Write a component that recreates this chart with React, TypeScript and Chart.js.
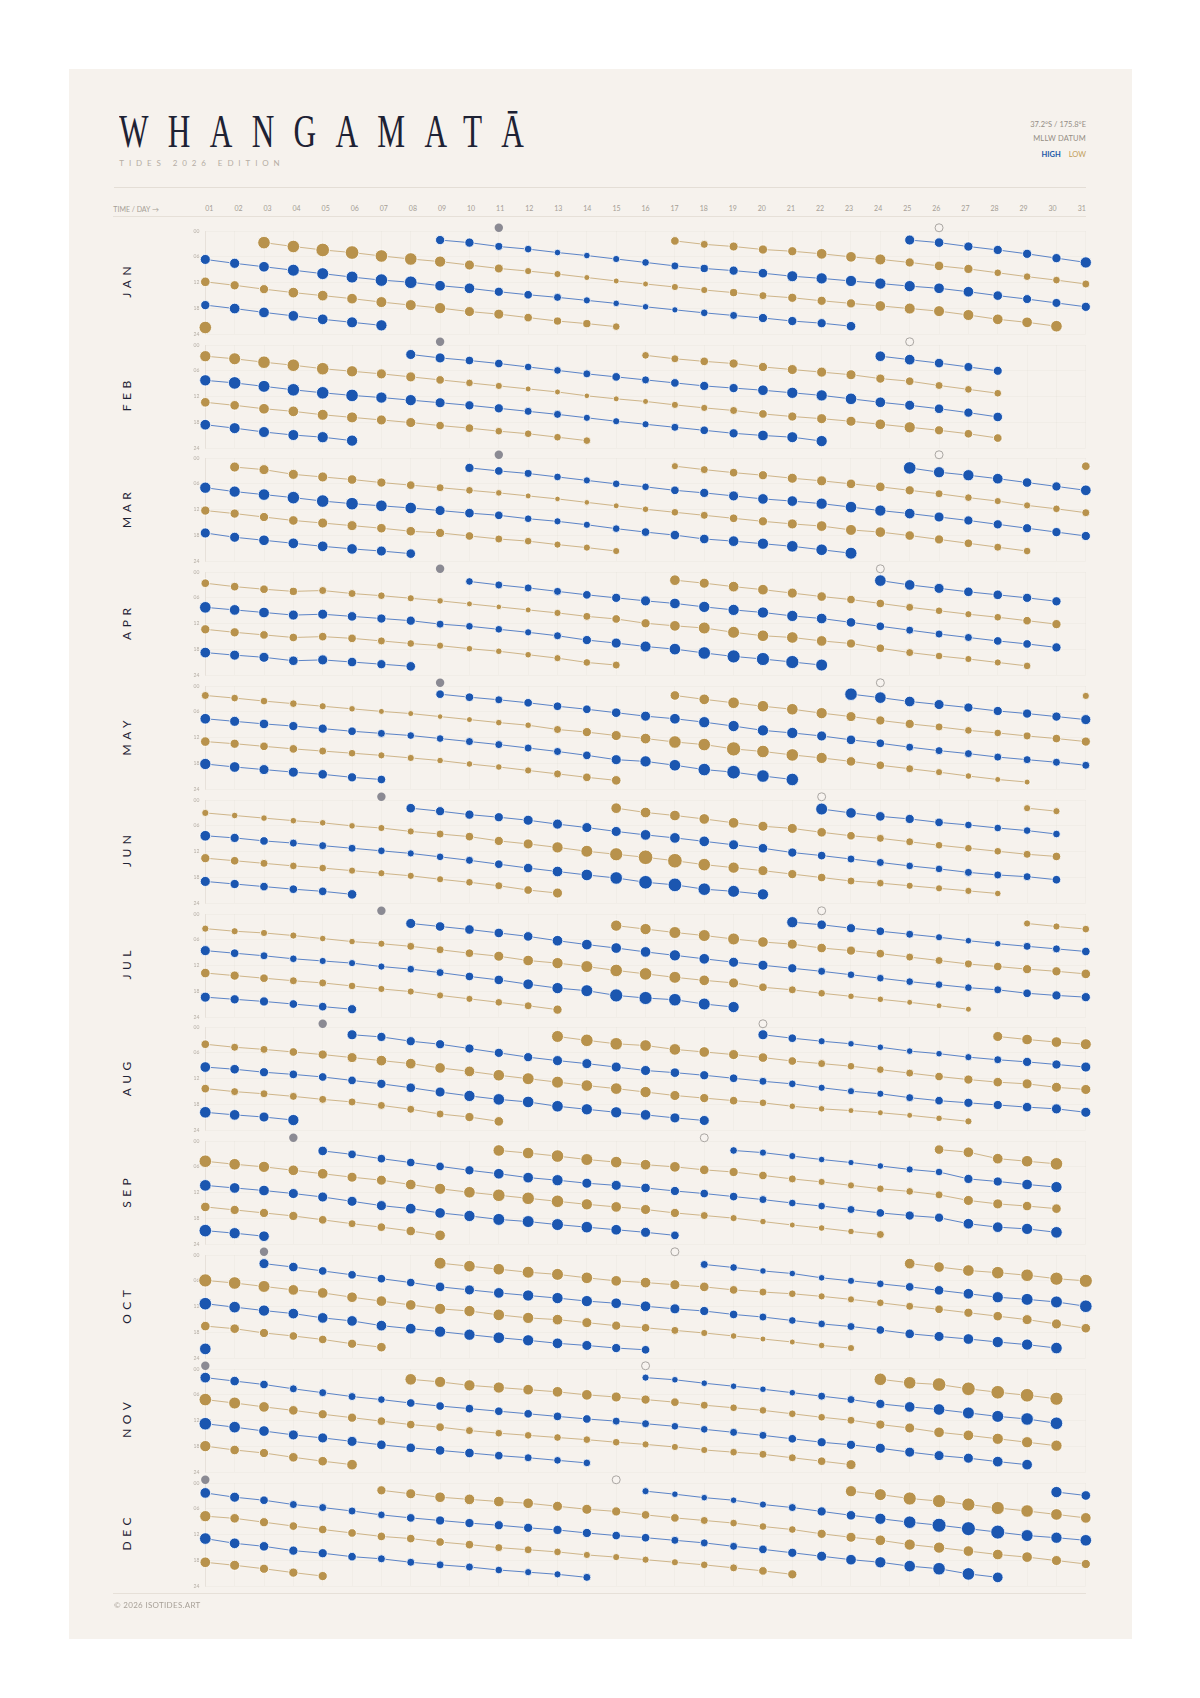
import React, { useEffect, useRef } from 'react';
import { Chart, registerables } from 'chart.js';

Chart.register(...registerables);

type Chain = { day: number; time: number[]; height: number[] };
const C = (day: number, time: number[], height: number[]): Chain => ({ day, time, height });

// ---------- labels / calendar ----------
const MONTHS = ['JAN', 'FEB', 'MAR', 'APR', 'MAY', 'JUN', 'JUL', 'AUG', 'SEP', 'OCT', 'NOV', 'DEC'];
const DAY_LABELS = ['01','02','03','04','05','06','07','08','09','10','11','12','13','14','15','16','17','18','19','20','21','22','23','24','25','26','27','28','29','30','31'];
const TIME_TICKS = [0, 6, 12, 18, 24];
const NEW_MOON_DAY = [11, 9, 11, 9, 9, 7, 7, 5, 4, 3, 1, 1];
const FULL_MOON_DAY = [26, 25, 26, 24, 24, 22, 22, 20, 18, 17, 16, 15];

// ---------- tide data: chains of [start day, times (h), heights (m)] ----------
const JAN_HIGH: Chain[] = [
  C(1, [6.6,7.5,8.3,9.1,9.9,10.7,11.4,11.9,12.7,13.3,14.1,14.8,15.4,16.1,16.8,17.6,18.3,19.0,19.6,20.2,20.9,21.4,22.1], [1.77,1.78,1.82,1.93,1.93,1.93,1.98,1.98,1.82,1.82,1.70,1.65,1.60,1.53,1.48,1.48,1.45,1.57,1.60,1.70,1.70,1.70,1.73]),
  C(1, [17.2,18.0,18.9,19.7,20.5,21.2,21.9], [1.70,1.82,1.82,1.82,1.82,1.85,1.87]),
  C(9, [2.1,2.7,3.6,4.2,5.0,5.7,6.5,7.3,8.1,8.7,9.2,9.8,10.5,11.0,11.6,12.2,12.8,13.3,14.1,15.0,15.8,16.7,17.6], [1.70,1.70,1.60,1.57,1.48,1.48,1.53,1.57,1.60,1.62,1.70,1.73,1.85,1.87,1.87,1.87,1.87,1.82,1.82,1.73,1.68,1.68,1.70]),
  C(25, [2.1,2.7,3.6,4.4,5.3,6.3,7.3], [1.77,1.73,1.70,1.70,1.70,1.70,1.87]),
];
const JAN_LOW: Chain[] = [
  C(1, [11.8,12.6,13.5,14.3,15.0,15.7,16.5,17.2,17.9,18.7,19.3,20.1,20.9,21.5,22.2], [0.27,0.30,0.30,0.18,0.18,0.18,0.15,0.15,0.13,0.23,0.23,0.35,0.38,0.38,0.43]),
  C(1, [22.4], [0.02]),
  C(3, [2.7,3.6,4.4,5.0,5.8,6.5,7.1,7.9,8.7,9.3,10.0,10.8,11.6,12.3,13.0,13.7,14.3,15.0,15.5,16.2,16.8,17.4,18.0,18.6,19.5,20.5,21.2,22.1], [0.02,0.02,-0.07,-0.07,0.02,0.02,0.13,0.23,0.32,0.47,0.47,0.57,0.57,0.57,0.47,0.47,0.38,0.40,0.30,0.30,0.30,0.18,0.15,0.15,0.15,0.18,0.18,0.10]),
  C(17, [2.3,3.1,3.6,4.3,4.7,5.3,6.0,6.6,7.3,8.1,8.8,9.7,10.6,11.4,12.3], [0.35,0.40,0.32,0.30,0.30,0.18,0.18,0.15,0.30,0.27,0.30,0.43,0.43,0.43,0.40]),
];

const FEB_HIGH: Chain[] = [
  C(1, [8.2,8.8,9.6,10.4,11.1,11.7,12.2,12.8,13.4,14.0,14.7,15.4,16.1,16.9,17.7,18.4,19.1,19.8,20.5,21.0,21.4,22.3], [1.87,1.98,1.93,1.98,1.98,1.98,1.87,1.87,1.77,1.70,1.70,1.60,1.60,1.53,1.53,1.53,1.60,1.65,1.70,1.82,1.85,1.87]),
  C(1, [18.5,19.3,20.2,20.9,21.4,22.2], [1.82,1.85,1.85,1.85,1.87,1.87]),
  C(8, [2.2,3.0,3.6,4.3,5.1,5.9,6.7,7.4,8.1,8.8,9.5,10.0,10.5,11.1,11.7,12.5,13.3,14.0,14.8,15.7,16.7], [1.77,1.77,1.65,1.65,1.57,1.57,1.60,1.65,1.60,1.65,1.70,1.70,1.82,1.87,1.87,1.90,1.82,1.77,1.73,1.70,1.73]),
  C(24, [2.6,3.4,4.2,5.1,6.0], [1.82,1.82,1.73,1.68,1.68]),
];
const FEB_LOW: Chain[] = [
  C(1, [2.6,3.2,4.0,4.7,5.5,6.1,6.7,7.4,8.1,8.8,9.5,10.2,10.9,11.8,12.5,13.1,13.9,14.6,15.2,16.0,16.6,17.1,17.7,18.4,19.1,19.8,20.6,21.6], [0.13,0.07,0.02,0.02,0.02,0.13,0.23,0.23,0.35,0.43,0.47,0.57,0.57,0.60,0.57,0.57,0.47,0.47,0.40,0.35,0.30,0.23,0.23,0.18,0.13,0.30,0.35,0.35]),
  C(1, [13.3,14.0,14.8,15.4,16.2,16.8,17.4,18.0,18.7,19.3,20.0,20.6,21.4,22.2], [0.27,0.27,0.18,0.18,0.15,0.15,0.23,0.23,0.35,0.35,0.43,0.43,0.43,0.43]),
  C(16, [2.4,3.2,3.8,4.3,5.1,5.7,6.3,6.9,7.8,8.4,9.4,10.3,11.2], [0.43,0.40,0.35,0.30,0.30,0.23,0.23,0.23,0.30,0.35,0.40,0.43,0.43]),
];

const MAR_HIGH: Chain[] = [
  C(1, [6.9,7.8,8.5,9.2,10.0,10.6,11.1,11.6,12.2,12.8,13.3,14.1,14.7,15.5,16.4,17.2,17.9,18.8,19.3,19.9,20.5,21.3,22.1], [1.87,1.87,1.90,1.98,1.98,1.98,1.90,1.90,1.77,1.73,1.65,1.57,1.53,1.53,1.57,1.65,1.73,1.73,1.82,1.87,1.90,1.90,1.93]),
  C(1, [17.4,18.4,19.1,19.8,20.5,21.1,21.6,22.2], [1.77,1.77,1.82,1.82,1.82,1.82,1.77,1.73]),
  C(10, [2.3,3.0,3.6,4.4,5.2,6.0,6.7,7.5,8.1,8.8,9.5,10.0,10.6,11.4,12.2,12.9,13.7,14.5,15.4,16.3,17.2,18.1], [1.70,1.65,1.60,1.57,1.53,1.57,1.57,1.65,1.70,1.77,1.82,1.82,1.87,1.90,1.87,1.82,1.77,1.70,1.70,1.70,1.70,1.70]),
  C(25, [2.3,3.3,4.0,4.8,5.7,6.6,7.5], [1.98,1.87,1.87,1.82,1.73,1.70,1.82]),
];
const MAR_LOW: Chain[] = [
  C(2, [2.1,2.7,3.8,4.4,5.0,5.7,6.3,6.9,7.5,8.1,8.8,9.5,10.3,11.1,11.9,12.6,13.3,14.0,14.7,15.3,15.8,16.7,17.2,18.0,18.9,19.8,20.7,21.6], [0.23,0.23,0.23,0.23,0.27,0.30,0.35,0.40,0.43,0.52,0.57,0.60,0.60,0.57,0.52,0.43,0.40,0.35,0.30,0.23,0.18,0.15,0.18,0.27,0.30,0.35,0.40,0.43]),
  C(1, [12.2,12.9,13.7,14.5,15.1,15.7,16.3,17.0,17.4,18.1,18.8,19.3,20.1,20.8,21.6], [0.30,0.30,0.30,0.27,0.23,0.23,0.27,0.27,0.30,0.35,0.40,0.43,0.47,0.47,0.47]),
  C(17, [1.9,2.7,3.4,4.0,4.7,5.3,6.0,6.7,7.5,8.3,9.2,10.0,11.0,11.8,12.7], [0.47,0.40,0.35,0.30,0.23,0.23,0.27,0.27,0.30,0.40,0.43,0.47,0.47,0.43,0.40]),
  C(31, [1.9], [0.35]),
];

const APR_HIGH: Chain[] = [
  C(1, [8.2,8.8,9.4,10.0,9.8,10.3,10.8,11.3,12.1,12.6,13.3,14.0,14.8,15.8,16.5,17.3,17.9,18.8,19.6,20.2,20.9,21.6], [1.90,1.82,1.82,1.77,1.77,1.73,1.70,1.70,1.60,1.57,1.57,1.53,1.60,1.70,1.77,1.85,1.90,1.98,2.03,2.03,2.03,1.93]),
  C(1, [18.7,19.3,19.8,20.6,20.4,20.9,21.4,21.9], [1.82,1.77,1.77,1.73,1.77,1.73,1.70,1.73]),
  C(10, [2.2,3.0,3.7,4.5,5.3,6.0,6.7,7.3,8.1,8.8,9.4,10.2,10.8,11.7,12.6,13.5,14.4,15.2,16.0,16.7,17.5], [1.57,1.60,1.60,1.60,1.65,1.70,1.77,1.82,1.87,1.87,1.87,1.87,1.82,1.73,1.65,1.60,1.60,1.60,1.65,1.65,1.70]),
  C(24, [2.0,3.0,3.8,4.6,5.3,6.0,6.8], [1.90,1.82,1.77,1.73,1.73,1.70,1.70]),
];
const APR_LOW: Chain[] = [
  C(1, [2.6,3.4,4.0,4.5,4.3,5.0,5.5,6.1,6.7,7.4,8.1,8.8,9.5,10.3,10.9,11.9,12.5,13.0,14.0,14.8,15.2,16.0,16.6,17.7,18.7,19.5,20.2,21.0,21.8], [0.35,0.35,0.35,0.38,0.40,0.40,0.43,0.47,0.52,0.57,0.60,0.57,0.47,0.40,0.35,0.30,0.18,0.07,0.07,0.10,0.10,0.18,0.30,0.35,0.40,0.43,0.47,0.47,0.43]),
  C(1, [13.3,14.0,14.6,15.2,15.0,15.4,16.0,16.6,17.1,17.8,18.4,19.2,20.0,21.0,21.6], [0.30,0.30,0.35,0.35,0.35,0.35,0.40,0.43,0.47,0.52,0.52,0.52,0.47,0.43,0.40]),
  C(17, [1.9,2.6,3.4,4.1,4.9,5.7,6.4,7.3,8.2,9.0,9.8,10.5,11.3,12.1], [0.18,0.23,0.18,0.18,0.23,0.27,0.35,0.35,0.40,0.43,0.47,0.43,0.35,0.30]),
];

const MAY_HIGH: Chain[] = [
  C(1, [7.6,8.2,8.8,9.3,9.9,10.5,11.0,11.5,12.2,12.9,13.6,14.4,15.2,16.1,17.1,17.5,18.4,19.4,20.0,20.9,21.7], [1.82,1.77,1.73,1.70,1.70,1.65,1.60,1.57,1.57,1.60,1.60,1.60,1.60,1.65,1.77,1.87,1.90,1.98,2.07,1.98,1.98]),
  C(1, [18.1,18.8,19.4,20.0,20.5,21.2,21.7], [1.87,1.82,1.77,1.77,1.73,1.70,1.65]),
  C(9, [1.9,2.6,3.2,3.9,4.7,5.4,6.2,7.0,7.6,8.4,9.3,10.3,10.9,11.6,12.5,13.3,14.2,15.0,15.7,16.5,17.1,17.7,18.4], [1.65,1.65,1.60,1.65,1.65,1.65,1.73,1.77,1.82,1.87,1.87,1.87,1.87,1.77,1.73,1.65,1.60,1.60,1.60,1.60,1.60,1.60,1.60]),
  C(23, [1.9,2.7,3.6,4.3,5.0,5.8,6.4,7.1,7.8], [1.98,1.90,1.82,1.77,1.70,1.70,1.70,1.70,1.77]),
];
const MAY_LOW: Chain[] = [
  C(1, [2.2,2.8,3.5,4.1,4.7,5.3,5.9,6.4,7.1,7.8,8.5,9.1,10.1,10.7,11.5,12.2,13.0,13.6,14.6,15.2,16.0,16.7,17.5,18.4,19.2,20.0,20.9,21.7,22.3], [0.40,0.43,0.43,0.43,0.47,0.52,0.57,0.57,0.60,0.57,0.52,0.52,0.40,0.30,0.23,0.18,0.02,0.02,-0.12,0.02,0.02,0.13,0.27,0.35,0.40,0.47,0.52,0.57,0.57]),
  C(1, [12.9,13.4,14.0,14.6,15.1,15.6,16.1,16.7,17.3,18.1,18.8,19.6,20.4,21.2,21.9], [0.27,0.30,0.35,0.35,0.40,0.43,0.47,0.47,0.52,0.52,0.52,0.47,0.40,0.35,0.27]),
  C(17, [2.2,3.1,3.9,4.7,5.4,6.3,7.1,8.0,8.8,9.5,10.3,10.9,11.6,12.2,12.9], [0.27,0.18,0.10,0.10,0.10,0.13,0.23,0.30,0.30,0.40,0.43,0.43,0.40,0.35,0.30]),
  C(31, [2.3], [0.47]),
];

const JUN_HIGH: Chain[] = [
  C(1, [8.3,8.8,9.5,10.0,10.6,11.2,11.8,12.4,13.2,14.0,14.9,15.8,16.6,17.4,18.1,19.1,19.7,20.7,21.2,21.9], [1.82,1.70,1.65,1.60,1.60,1.60,1.57,1.53,1.57,1.60,1.65,1.73,1.82,1.90,1.98,2.07,2.07,1.98,1.93,1.87]),
  C(1, [18.9,19.5,20.1,20.7,21.2,21.9], [1.77,1.70,1.65,1.65,1.65,1.73]),
  C(8, [1.9,2.6,3.4,4.0,4.7,5.6,6.4,7.3,8.1,8.8,9.6,10.4,11.2,12.2,12.9,13.7,14.5,15.3,16.0,16.8,17.4,17.8,18.5], [1.73,1.70,1.70,1.70,1.77,1.77,1.77,1.77,1.82,1.82,1.82,1.77,1.73,1.70,1.65,1.60,1.60,1.57,1.57,1.60,1.60,1.60,1.65]),
  C(22, [2.1,3.0,3.8,4.4,5.2,5.8,6.5,7.1,7.9], [1.93,1.82,1.73,1.70,1.65,1.57,1.57,1.57,1.57]),
];
const JUN_LOW: Chain[] = [
  C(1, [3.0,3.6,4.2,4.8,5.3,6.0,6.5,7.3,7.9,8.5,9.5,10.2,11.0,11.9,12.6,13.3,14.1,15.0,15.7,16.4,17.2,18.0,18.8,19.3,19.9,20.5,21.1,21.7], [0.47,0.52,0.52,0.52,0.52,0.52,0.47,0.47,0.40,0.35,0.30,0.23,0.13,0.07,-0.03,-0.15,-0.15,0.02,0.13,0.23,0.30,0.35,0.40,0.43,0.47,0.47,0.47,0.52]),
  C(1, [13.5,14.1,14.7,15.3,15.8,16.4,17.0,17.6,18.4,19.1,19.9,20.9,21.6], [0.30,0.35,0.40,0.43,0.43,0.47,0.47,0.47,0.47,0.43,0.40,0.35,0.23]),
  C(15, [1.9,2.9,3.6,4.4,5.3,6.1,6.6,7.5,8.3,8.9,9.7,10.5,11.2,11.9,12.6,13.1], [0.18,0.18,0.18,0.18,0.18,0.23,0.23,0.27,0.35,0.40,0.40,0.43,0.43,0.43,0.40,0.35]),
  C(29, [1.9,2.6], [0.47,0.47]),
];

const JUL_HIGH: Chain[] = [
  C(1, [8.5,9.1,9.7,10.4,10.9,11.4,12.2,12.8,13.6,14.5,15.3,16.3,17.2,17.8,18.9,19.5,19.9,20.9,21.6], [1.77,1.65,1.60,1.57,1.53,1.53,1.53,1.57,1.60,1.65,1.73,1.82,1.87,1.93,2.03,2.03,1.98,1.93,1.87]),
  C(1, [19.3,19.8,20.3,20.9,21.5,22.1], [1.77,1.70,1.70,1.65,1.65,1.70]),
  C(8, [2.2,2.9,3.6,4.4,5.2,6.2,7.1,7.9,8.8,9.6,10.4,11.2,11.9,12.6,13.3,14.1,14.9,15.7,16.4,17.1,17.6,18.4,18.9,19.3], [1.77,1.73,1.73,1.73,1.73,1.82,1.82,1.82,1.82,1.87,1.82,1.77,1.77,1.70,1.60,1.57,1.57,1.57,1.57,1.57,1.60,1.65,1.70,1.70]),
  C(21, [1.9,2.5,3.3,4.0,4.7,5.4,6.2,6.9,7.5,8.1,8.7], [1.87,1.73,1.70,1.65,1.60,1.53,1.48,1.48,1.60,1.60,1.65]),
];
const JUL_LOW: Chain[] = [
  C(1, [3.4,4.0,4.4,5.0,5.7,6.4,6.9,7.5,8.3,9.1,9.8,10.8,11.4,12.2,13.1,13.9,14.7,15.4,16.0,17.0,17.6,18.4,19.1,19.8,20.5,21.3,22.1], [0.47,0.47,0.47,0.47,0.52,0.52,0.47,0.40,0.40,0.35,0.23,0.18,0.13,0.07,0.02,0.02,0.07,0.18,0.23,0.35,0.40,0.43,0.52,0.52,0.57,0.57,0.57]),
  C(1, [13.7,14.3,14.9,15.5,16.0,16.7,17.4,18.0,18.9,19.7,20.5,21.3,22.2], [0.27,0.30,0.35,0.40,0.40,0.43,0.47,0.47,0.47,0.47,0.43,0.40,0.30]),
  C(15, [2.7,3.5,4.3,5.0,5.8,6.5,7.0,7.9,8.5,9.2,10.0,10.8,11.6,12.2,12.8,13.3,13.9], [0.13,0.13,0.07,0.07,0.07,0.18,0.23,0.27,0.30,0.35,0.40,0.40,0.40,0.35,0.30,0.30,0.27]),
  C(29, [2.2,2.9,3.5], [0.47,0.47,0.43]),
];

const AUG_HIGH: Chain[] = [
  C(1, [9.3,9.8,10.5,11.0,11.6,12.4,13.2,14.1,15.1,16.0,16.8,17.4,18.4,19.1,19.8,20.4,21.1,21.7], [1.82,1.73,1.70,1.65,1.65,1.65,1.70,1.73,1.77,1.87,1.90,1.90,1.90,1.87,1.87,1.82,1.77,1.77]),
  C(1, [19.8,20.4,20.9,21.6], [1.90,1.82,1.77,1.87]),
  C(6, [1.8,2.3,3.3,4.0,5.0,6.0,7.0,7.8,8.5,9.3,10.1,10.6,11.2,11.9,12.6,13.2,14.1,14.9,15.5,16.4,17.1,17.6,18.1,18.6,19.0,19.8], [1.77,1.70,1.70,1.70,1.70,1.70,1.70,1.77,1.77,1.77,1.77,1.73,1.70,1.65,1.60,1.57,1.53,1.53,1.53,1.60,1.65,1.70,1.70,1.73,1.77,1.77]),
  C(20, [1.8,2.6,3.3,3.9,4.7,5.6,6.2,7.0,7.6,8.1,8.7,9.3], [1.77,1.65,1.53,1.48,1.48,1.48,1.48,1.53,1.60,1.70,1.70,1.77]),
];
const AUG_LOW: Chain[] = [
  C(1, [4.0,4.7,5.2,5.8,6.4,7.1,7.8,8.5,9.5,10.3,11.2,12.0,12.8,13.6,14.3,15.1,15.9,16.5,17.1,17.6,18.4,19.0,19.4,19.9,20.5,21.2,21.9], [0.35,0.40,0.40,0.35,0.30,0.23,0.18,0.18,0.18,0.18,0.10,0.07,0.07,0.10,0.10,0.13,0.23,0.30,0.35,0.43,0.52,0.52,0.57,0.57,0.57,0.52,0.47]),
  C(1, [14.3,15.0,15.5,16.1,16.8,17.4,18.2,19.1,20.2,20.9,21.9], [0.35,0.40,0.40,0.40,0.40,0.40,0.40,0.40,0.40,0.30,0.27]),
  C(13, [2.2,3.1,3.9,4.3,5.2,5.8,6.4,7.1,7.9,8.5,9.1,9.9,10.7,11.5,12.2,12.8,13.2,14.0,14.5], [0.07,0.02,0.02,0.10,0.10,0.18,0.23,0.27,0.35,0.40,0.43,0.43,0.40,0.35,0.30,0.27,0.23,0.23,0.23]),
  C(28, [2.2,2.9,3.5,4.0], [0.23,0.18,0.18,0.15]),
];

const SEP_HIGH: Chain[] = [
  C(1, [10.3,10.9,11.5,12.2,13.0,14.0,15.0,15.7,16.7,17.4,18.2,18.7,19.4,20.0,20.6,21.2,21.9], [1.90,1.82,1.82,1.77,1.77,1.77,1.77,1.82,1.82,1.87,1.93,1.93,1.93,1.90,1.82,1.77,1.65]),
  C(1, [20.8,21.4,22.1], [1.98,1.87,1.82]),
  C(5, [2.3,3.1,4.1,5.0,5.9,6.8,7.6,8.5,9.1,9.8,10.3,10.9,11.6,12.2,12.9,13.6,14.4,15.1,15.9,16.7,17.3,17.8,19.2,20.0,20.4,21.2], [1.73,1.65,1.65,1.65,1.65,1.70,1.82,1.82,1.87,1.77,1.77,1.73,1.70,1.65,1.65,1.60,1.57,1.57,1.60,1.65,1.70,1.70,1.82,1.82,1.87,1.90]),
  C(19, [2.2,2.7,3.5,4.3,5.0,5.8,6.6,7.2,8.8,9.4,10.1,10.7], [1.57,1.53,1.53,1.48,1.45,1.48,1.53,1.57,1.70,1.70,1.82,1.87]),
];
const SEP_LOW: Chain[] = [
  C(1, [4.7,5.4,6.0,6.8,7.6,8.4,9.1,10.1,11.1,11.9,12.6,13.3,14.0,14.7,15.3,15.9,16.7,17.3,17.9,18.7,19.5,20.2,21.0,21.7], [0.02,0.10,0.13,0.18,0.18,0.23,0.23,0.18,0.13,0.10,0.02,0.02,0.02,0.13,0.18,0.23,0.30,0.40,0.47,0.52,0.57,0.52,0.52,0.40]),
  C(1, [15.3,16.0,16.7,17.4,18.3,19.2,20.0,20.9,21.9], [0.27,0.30,0.30,0.30,0.35,0.40,0.35,0.27,0.18]),
  C(11, [2.2,2.8,3.5,4.3,4.9,5.5,6.0,6.7,7.2,8.0,8.8,9.5,10.3,11.1,11.7,12.5,13.8,14.6,15.1,15.7], [0.10,0.10,0.02,0.07,0.10,0.18,0.18,0.27,0.30,0.35,0.40,0.47,0.47,0.43,0.43,0.40,0.23,0.23,0.27,0.27]),
  C(26, [2.0,2.6,4.1,4.7,5.3], [0.27,0.18,0.18,0.10,0.02]),
];

const OCT_HIGH: Chain[] = [
  C(1, [11.3,12.1,12.9,13.6,14.6,15.3,16.4,17.1,17.8,18.5,19.2,19.8,20.5,21.0,21.6,22.0], [1.98,1.90,1.87,1.82,1.82,1.82,1.82,1.82,1.87,1.87,1.90,1.87,1.82,1.77,1.70,1.65]),
  C(1, [21.8], [1.90]),
  C(3, [2.0,2.8,3.7,4.6,5.5,6.4,7.4,8.1,8.8,9.4,10.0,10.7,11.2,11.9,12.5,13.0,13.8,14.4,15.2,16.0,16.6,17.4,18.3,18.9,19.5,20.2,20.8,21.6], [1.77,1.73,1.65,1.65,1.65,1.65,1.73,1.77,1.82,1.87,1.87,1.87,1.82,1.82,1.77,1.70,1.65,1.60,1.57,1.57,1.60,1.65,1.73,1.77,1.82,1.87,1.87,1.90]),
  C(18, [2.2,2.9,3.7,4.3,5.3,6.0,6.7,7.4,8.2,9.0,9.8,10.3,10.9,11.9], [1.60,1.57,1.48,1.48,1.48,1.53,1.57,1.65,1.73,1.82,1.87,1.93,1.93,1.98]),
];
const OCT_LOW: Chain[] = [
  C(1, [5.9,6.5,7.3,8.1,8.8,9.8,10.7,11.6,12.5,13.0,13.9,14.6,15.0,15.7,16.4,16.9,17.5,18.1,18.8,19.5,20.2,21.0,21.6], [-0.03,0.02,0.07,0.18,0.18,0.18,0.18,0.18,0.13,0.13,0.10,0.13,0.18,0.23,0.30,0.35,0.40,0.47,0.52,0.57,0.57,0.52,0.47]),
  C(1, [16.5,17.1,18.1,18.8,19.6,20.6,21.4], [0.27,0.27,0.30,0.35,0.35,0.30,0.27]),
  C(9, [1.9,2.6,3.3,4.0,4.5,5.3,6.0,6.4,6.9,7.4,8.1,8.6,9.0,9.6,10.3,11.1,11.9,12.6,13.4,14.2,15.0,16.0,17.0], [0.07,0.10,0.10,0.07,0.07,0.10,0.18,0.18,0.23,0.27,0.35,0.40,0.43,0.47,0.47,0.43,0.40,0.35,0.30,0.27,0.23,0.23,0.27]),
  C(25, [2.0,2.8,3.6,4.1,4.7,5.5,6.0], [0.18,0.18,0.10,0.02,0.02,-0.03,-0.03]),
];

const NOV_HIGH: Chain[] = [
  C(1, [2.0,2.8,3.6,4.6,5.5,6.4,7.1,7.9,8.6,9.2,9.8,10.4,11.0,11.6,12.1,12.7,13.3,14.0,14.7,15.4,16.2,17.0,17.6,18.4,19.3,20.1,20.7,21.5,22.2], [1.82,1.73,1.65,1.60,1.60,1.60,1.57,1.65,1.65,1.65,1.65,1.65,1.65,1.65,1.60,1.60,1.57,1.57,1.60,1.60,1.65,1.70,1.70,1.77,1.77,1.77,1.77,1.82,1.82]),
  C(1, [12.7,13.5,14.4,15.3,16.0,16.8,17.6,18.3,18.9,19.5,20.1,20.6,21.2,21.8], [1.98,1.90,1.82,1.77,1.77,1.77,1.73,1.73,1.73,1.73,1.65,1.60,1.57,1.57]),
  C(16, [2.0,2.5,3.3,4.0,4.7,5.5,6.3,7.1,8.1,8.8,9.4,10.2,11.0,11.6,12.6], [1.53,1.48,1.48,1.48,1.48,1.48,1.60,1.60,1.70,1.82,1.90,1.93,1.93,1.98,1.98]),
];
const NOV_LOW: Chain[] = [
  C(1, [7.1,7.9,8.8,9.6,10.5,11.3,12.1,12.9,13.5,14.3,14.9,15.4,15.9,16.4,17.0,17.5,18.1,18.8,19.3,19.8,20.6,21.4,22.2], [0.02,0.07,0.18,0.27,0.30,0.30,0.35,0.35,0.35,0.40,0.43,0.43,0.43,0.43,0.43,0.47,0.47,0.47,0.43,0.40,0.40,0.35,0.23]),
  C(1, [17.9,18.8,19.5,20.5,21.4,22.2], [0.13,0.27,0.30,0.27,0.27,0.18]),
  C(8, [2.4,3.0,3.8,4.3,4.8,5.3,6.0,6.5,7.1,7.7,8.4,9.0,9.6,10.4,11.2,11.9,12.9,13.7,14.7,15.4,16.2,17.0,17.8], [0.10,0.13,0.13,0.13,0.18,0.18,0.18,0.23,0.30,0.35,0.40,0.43,0.43,0.43,0.43,0.40,0.30,0.23,0.18,0.18,0.13,0.13,0.13]),
  C(24, [2.4,3.2,3.6,4.6,5.4,6.1,6.9], [0.02,0.02,-0.07,-0.07,-0.07,-0.07,-0.03]),
];

const DEC_HIGH: Chain[] = [
  C(1, [2.3,3.3,4.0,5.0,5.7,6.5,7.4,8.1,8.7,9.3,9.8,10.4,10.9,11.6,12.2,12.7,13.3,13.9,14.7,15.4,16.2,17.0,17.8,18.4,19.3,19.9,21.1,21.9], [1.82,1.77,1.65,1.60,1.60,1.60,1.57,1.65,1.70,1.70,1.70,1.70,1.70,1.70,1.65,1.65,1.60,1.60,1.60,1.65,1.70,1.77,1.82,1.87,1.90,1.98,1.98,1.82]),
  C(1, [12.9,14.0,14.7,15.7,16.3,17.1,17.6,18.4,19.0,19.5,20.2,20.7,21.2,21.9], [1.90,1.82,1.73,1.70,1.70,1.65,1.60,1.60,1.60,1.60,1.57,1.53,1.53,1.60]),
  C(16, [1.9,2.6,3.4,4.0,5.0,5.7,6.6,7.5,8.3,9.1,9.8,10.6,11.4,12.2,12.7,13.3], [1.53,1.48,1.48,1.48,1.53,1.60,1.70,1.73,1.87,1.98,2.10,2.10,2.10,1.93,1.87,1.90]),
  C(30, [2.1,2.9], [1.87,1.73]),
];
const DEC_LOW: Chain[] = [
  C(1, [7.7,8.2,9.1,10.0,10.8,11.6,12.4,12.9,13.7,14.3,15.0,15.5,16.0,16.7,17.2,17.8,18.4,19.0,19.7,20.4,21.2], [0.13,0.27,0.30,0.35,0.35,0.35,0.35,0.35,0.35,0.35,0.40,0.40,0.43,0.47,0.47,0.47,0.47,0.43,0.40,0.35,0.30]),
  C(1, [18.4,19.1,19.9,20.8,21.6], [0.18,0.23,0.30,0.30,0.30]),
  C(7, [1.7,2.5,3.3,3.8,4.3,4.7,5.4,6.1,6.6,7.4,8.1,8.7,9.3,10.1,10.8,11.8,12.6,13.3,14.3,15.0,15.8,16.6,17.2,18.0,18.8], [0.30,0.23,0.18,0.18,0.18,0.18,0.23,0.23,0.30,0.35,0.35,0.40,0.43,0.43,0.43,0.30,0.23,0.18,0.13,0.13,0.18,0.18,0.18,0.23,0.30]),
  C(23, [1.9,2.7,3.6,4.2,5.0,5.8,6.5,7.3,8.1], [0.13,0.07,-0.03,-0.03,-0.03,-0.03,0.02,0.10,0.18]),
];

const HIGHS = [JAN_HIGH, FEB_HIGH, MAR_HIGH, APR_HIGH, MAY_HIGH, JUN_HIGH, JUL_HIGH, AUG_HIGH, SEP_HIGH, OCT_HIGH, NOV_HIGH, DEC_HIGH];
const LOWS = [JAN_LOW, FEB_LOW, MAR_LOW, APR_LOW, MAY_LOW, JUN_LOW, JUL_LOW, AUG_LOW, SEP_LOW, OCT_LOW, NOV_LOW, DEC_LOW];

// ---------- styling ----------
const BLUE = '#1b56b0';
const GOLD = '#b8924c';
const BLUE_LINE = 'rgba(40,95,185,0.75)';
const GOLD_LINE = 'rgba(190,155,95,0.7)';
const GRID = 'rgba(140,120,95,0.04)';
const INK = '#1e2234';
const MUTED = '#a59e95';
const SANS = "Lato, 'Noto Sans', sans-serif";

const PANEL_TOP0 = 230.7;
const PANEL_STEP = 113.8;
const PANEL_H = 103.4;
const CANVAS_LEFT = 150;
const CANVAS_W = 960;
const PAD_TOP = 14;
const PAD_BOTTOM = 14.6;
const AXIS_W = 55.3;
const PAD_RIGHT = 24.2;

const highRadius = (h: number) => Math.max(2, 2.8 + (h - 1.4) * 6);
const lowRadius = (h: number) => Math.max(2, 2.8 + (0.6 - h) * 6);

function chainPoints(c: Chain) {
  return c.time.map((t, i) => ({ x: c.day + i, y: t, h: c.height[Math.min(i, c.height.length - 1)] }));
}

function MonthChart({ index }: { index: number }) {
  const ref = useRef<HTMLCanvasElement>(null);
  useEffect(() => {
    if (!ref.current) return;
    const highs = HIGHS[index];
    const lows = LOWS[index];
    const datasets: any[] = [];
    lows.forEach((c) => datasets.push({
      data: chainPoints(c), showLine: true, borderColor: GOLD_LINE, borderWidth: 1,
      pointRadius: 0, order: 5, clip: false,
    }));
    highs.forEach((c) => datasets.push({
      data: chainPoints(c), showLine: true, borderColor: BLUE_LINE, borderWidth: 1,
      pointRadius: 0, order: 4, clip: false,
    }));
    datasets.push({
      data: lows.flatMap(chainPoints), showLine: false,
      pointRadius: (ctx: any) => lowRadius(ctx.raw ? ctx.raw.h : 0.4),
      pointBackgroundColor: GOLD, pointBorderColor: 'rgba(255,255,255,0.8)', pointBorderWidth: 1,
      order: 3, clip: false,
    });
    datasets.push({
      data: highs.flatMap(chainPoints), showLine: false,
      pointRadius: (ctx: any) => highRadius(ctx.raw ? ctx.raw.h : 1.6),
      pointBackgroundColor: BLUE, pointBorderColor: 'rgba(255,255,255,0.8)', pointBorderWidth: 1,
      order: 2, clip: false,
    });
    datasets.push({
      data: [{ x: NEW_MOON_DAY[index], y: -0.75 }], showLine: false,
      pointRadius: 4.2, pointBackgroundColor: '#8b8a93', pointBorderWidth: 0, order: 1, clip: false,
    });
    datasets.push({
      data: [{ x: FULL_MOON_DAY[index], y: -0.75 }], showLine: false,
      pointRadius: 4, pointBackgroundColor: '#f7f3ef', pointBorderColor: '#a9a5a1', pointBorderWidth: 1,
      order: 1, clip: false,
    });

    const chart = new Chart(ref.current, {
      type: 'scatter',
      data: { datasets },
      options: {
        responsive: false,
        animation: false,
        events: [],
        layout: { padding: { left: 0, right: PAD_RIGHT, top: PAD_TOP, bottom: PAD_BOTTOM } },
        plugins: { legend: { display: false }, tooltip: { enabled: false } },
        scales: {
          x: {
            type: 'linear', min: 1, max: 31,
            ticks: { display: false, stepSize: 1 },
            grid: { color: GRID, drawTicks: false },
            border: { display: false },
            afterFit: (s: any) => { s.height = 0; },
          },
          y: {
            type: 'linear', reverse: true, min: 0, max: 24,
            afterBuildTicks: (s: any) => { s.ticks = TIME_TICKS.map((v) => ({ value: v })); },
            ticks: {
              callback: (v: any) => String(v).padStart(2, '0'),
              font: { size: 5, family: SANS },
              color: '#b4ada4',
              padding: 6,
            },
            grid: { color: GRID, drawTicks: false },
            border: { display: true, color: 'rgba(140,120,95,0.1)' },
            afterFit: (s: any) => { s.width = AXIS_W; },
          },
        },
      } as any,
    });
    return () => chart.destroy();
  }, [index]);

  const top = PANEL_TOP0 + index * PANEL_STEP - PAD_TOP;
  const h = PAD_TOP + PANEL_H + PAD_BOTTOM;
  return (
    <canvas
      ref={ref}
      width={CANVAS_W}
      height={h}
      style={{ position: 'absolute', left: CANVAS_LEFT, top, width: CANVAS_W, height: h }}
    />
  );
}

const abs = (extra: React.CSSProperties): React.CSSProperties => ({ position: 'absolute', whiteSpace: 'nowrap', ...extra });

export default function App() {
  return (
    <div style={{ position: 'absolute', left: 0, top: 0, width: 1200, height: 1698, background: '#ffffff', overflow: 'hidden' }}>
      <div style={abs({ left: 69, top: 69, width: 1063, height: 1570, background: '#f6f2ed' })} />

      <div style={abs({ left: 119.3, top: 108.8, fontFamily: "'Liberation Serif', 'DejaVu Serif', serif", fontSize: 46, lineHeight: '46px', letterSpacing: '28.4px', color: INK, transform: 'scaleX(0.68)', transformOrigin: 'left top' })}>
        WHANGAMATĀ
      </div>
      <div style={abs({ left: 119.3, top: 158, fontFamily: SANS, fontSize: 8, lineHeight: '10px', letterSpacing: '4.9px', color: '#b5ada3' })}>
        TIDES 2026 EDITION
      </div>

      <div style={abs({ right: 114, top: 119.5, fontFamily: SANS, fontSize: 7.5, lineHeight: '10px', color: '#948d84', textAlign: 'right' })}>37.2°S / 175.8°E</div>
      <div style={abs({ right: 114, top: 133.5, fontFamily: SANS, fontSize: 7.5, lineHeight: '10px', color: '#948d84', textAlign: 'right', letterSpacing: '0.2px' })}>MLLW DATUM</div>
      <div style={abs({ right: 114, top: 150, fontFamily: SANS, fontSize: 7.5, lineHeight: '10px', textAlign: 'right', fontWeight: 700 })}>
        <span style={{ color: '#2358a8' }}>HIGH</span>
        <span style={{ color: '#c29d58', marginLeft: 8, fontWeight: 400 }}>LOW</span>
      </div>

      <div style={abs({ left: 113.5, top: 187, width: 972, height: 1, background: '#e4ded6' })} />
      <div style={abs({ left: 113.3, top: 204.5, fontFamily: SANS, fontSize: 7, lineHeight: '9px', color: MUTED })}>TIME / DAY →</div>
      <div style={abs({ left: 205.3, top: 204, width: 880.5, display: 'flex', justifyContent: 'space-between', fontFamily: SANS, fontSize: 7, lineHeight: '9px', color: MUTED })}>
        {DAY_LABELS.map((d) => <span key={d}>{d}</span>)}
      </div>
      <div style={abs({ left: 113, top: 216, width: 973, height: 1, background: '#e6e0d8' })} />

      {MONTHS.map((m, i) => (
        <div key={m} style={abs({ left: 127, top: PANEL_TOP0 + i * PANEL_STEP + PANEL_H / 2, transform: 'translate(-50%, -50%) rotate(-90deg)', fontFamily: SANS, fontSize: 12, lineHeight: '14px', letterSpacing: '4.5px', color: INK, paddingLeft: 4.5 })}>
          {m}
        </div>
      ))}

      {MONTHS.map((m, i) => <MonthChart key={m} index={i} />)}

      <div style={abs({ left: 113, top: 1593, width: 973, height: 1, background: '#e6e0d8' })} />
      <div style={abs({ left: 114, top: 1600, fontFamily: SANS, fontSize: 8, lineHeight: '10px', color: '#a8a198', letterSpacing: '0.3px' })}>© 2026 ISOTIDES.ART</div>
    </div>
  );
}
